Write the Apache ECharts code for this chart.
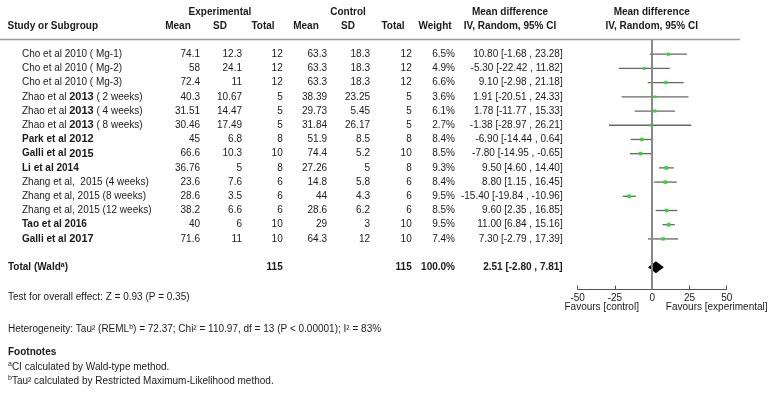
<!DOCTYPE html>
<html lang="en">
<head>
    <meta charset="UTF-8">
    <title>Forest plot</title>
    <script src="https://cdn.jsdelivr.net/npm/echarts@6/dist/echarts.min.js"></script>
</head>
<body style="margin:0;background:#fff;">
<div id="forest" style="width:772px;height:394px;"></div>
<script type="text/javascript">
    // study rows
    var studies = ['Cho et al 2010 ( Mg-1)', 'Cho et al 2010 ( Mg-2)', 'Cho et al 2010 ( Mg-3)',
        'Zhao et al 2013 ( 2 weeks)', 'Zhao et al 2013 ( 4 weeks)', 'Zhao et al 2013 ( 8 weeks)',
        'Park et al 2012', 'Galli et al 2015', 'Li et al 2014',
        'Zhang et al,  2015 (4 weeks)', 'Zhang et al, 2015 (8 weeks)', 'Zhang et al, 2015 (12 weeks)',
        'Tao et al 2016', 'Galli et al 2017'];
    var expMean = [74.1, 58, 72.4, 40.3, 31.51, 30.46, 45, 66.6, 36.76, 23.6, 28.6, 38.2, 40, 71.6];
    var expSD = [12.3, 24.1, 11, 10.67, 14.47, 17.49, 6.8, 10.3, 5, 7.6, 3.5, 6.6, 6, 11];
    var expN = [12, 12, 12, 5, 5, 5, 8, 10, 8, 6, 6, 6, 10, 10];
    var ctlMean = [63.3, 63.3, 63.3, 38.39, 29.73, 31.84, 51.9, 74.4, 27.26, 14.8, 44, 28.6, 29, 64.3];
    var ctlSD = [18.3, 18.3, 18.3, 23.25, 5.45, 26.17, 8.5, 5.2, 5, 5.8, 4.3, 6.2, 3, 12];
    var ctlN = [12, 12, 12, 5, 5, 5, 8, 10, 8, 6, 6, 6, 10, 10];
    var weight = [6.5, 4.9, 6.6, 3.6, 6.1, 2.7, 8.4, 8.5, 9.3, 8.4, 9.5, 8.5, 9.5, 7.4];
    var md = [10.80, -5.30, 9.10, 1.91, 1.78, -1.38, -6.90, -7.80, 9.50, 8.80, -15.40, 9.60, 11.00, 7.30];
    var ciLow = [-1.68, -22.42, -2.98, -20.51, -11.77, -28.97, -14.44, -14.95, 4.60, 1.15, -19.84, 2.35, 6.84, -2.79];
    var ciHigh = [23.28, 11.82, 21.18, 24.33, 15.33, 26.21, 0.64, -0.65, 14.40, 16.45, -10.96, 16.85, 15.16, 17.39];

    // pooled result
    var totalExpN = 115;
    var totalCtlN = 115;
    var totalWeight = 100.0;
    var pooled = [2.51, -2.80, 7.81];

    // x axis ticks of the plot
    var xTicks = [-50, -25, 0, 25, 50];

    var FONT = '"Liberation Sans", Arial, Helvetica, sans-serif';
    var TOTAL_ROW = 15;
    var fmt = function (v) { return v.toFixed(2); };
    var ciText = function (m, l, h) { return fmt(m) + ' [' + fmt(l) + ' , ' + fmt(h) + ']'; };

    // which study names are bold / have a bigger year
    var boldName = [6, 7, 8, 12, 13];
    var bigYear = [3, 4, 5, 6, 7, 13];

    function nameRich(i) {
        var tag = boldName.indexOf(i) >= 0 ? 'b' : 'n';
        return studies[i].split(/(\d{4})/).map(function (p) {
            if (p === '') return '';
            if (/^\d{4}$/.test(p) && bigYear.indexOf(i) >= 0) return '{y|' + p + '}';
            return '{' + tag + '|' + p + '}';
        }).join('');
    }

    // table cells: column x (px) and row index in the table grid
    var colX = {label: 22, eMean: 200, eSD: 242, eN: 282.7, cMean: 327, cSD: 370, cN: 411.7, w: 455, ci: 562.7};
    var cells = [];
    function cell(x, row, text, align, bold) {
        cells.push({x: x, row: row, text: text, align: align || 'right', bold: !!bold});
    }
    // headers
    var h1 = -2.93, h2 = -1.99;
    cell(220, h1, 'Experimental', 'center', true);
    cell(348, h1, 'Control', 'center', true);
    cell(510, h1, 'Mean difference', 'center', true);
    cell(651.7, h1, 'Mean difference', 'center', true);
    cell(7.5, h2, 'Study or Subgroup', 'left', true);
    cell(178, h2, 'Mean', 'center', true);
    cell(220, h2, 'SD', 'center', true);
    cell(263, h2, 'Total', 'center', true);
    cell(306, h2, 'Mean', 'center', true);
    cell(348, h2, 'SD', 'center', true);
    cell(393, h2, 'Total', 'center', true);
    cell(435, h2, 'Weight', 'center', true);
    cell(510, h2, 'IV, Random, 95% CI', 'center', true);
    cell(651.7, h2, 'IV, Random, 95% CI', 'center', true);

    studies.forEach(function (s, i) {
        cell(colX.label, i, nameRich(i), 'left');
        cell(colX.eMean, i, String(expMean[i]));
        cell(colX.eSD, i, String(expSD[i]));
        cell(colX.eN, i, String(expN[i]));
        cell(colX.cMean, i, String(ctlMean[i]));
        cell(colX.cSD, i, String(ctlSD[i]));
        cell(colX.cN, i, String(ctlN[i]));
        cell(colX.w, i, weight[i].toFixed(1) + '%');
        cell(colX.ci, i, ciText(md[i], ciLow[i], ciHigh[i]));
    });

    cell(8, TOTAL_ROW, '{b|Total (Wald}{sup|a}{b|)}', 'left');
    cell(colX.eN, TOTAL_ROW, String(totalExpN), 'right', true);
    cell(colX.cN, TOTAL_ROW, String(totalCtlN), 'right', true);
    cell(colX.w, TOTAL_ROW, totalWeight.toFixed(1) + '%', 'right', true);
    cell(colX.ci, TOTAL_ROW, ciText(pooled[0], pooled[1], pooled[2]), 'right', true);

    cell(601.7, 17.82, 'Favours [control]', 'center');
    cell(716.7, 17.82, 'Favours [experimental]', 'center');

    cell(8, 17.09, 'Test for overall effect: Z = 0.93 (P = 0.35)', 'left');
    cell(8, 19.35, '{n|Heterogeneity: Tau\u00b2 (REML}{sups|b}{n|) = 72.37; Chi\u00b2 = 110.97, df = 13 (P < 0.00001); I\u00b2 = 83%}', 'left');
    cell(8, 20.96, 'Footnotes', 'left', true);
    cell(8, 22.01, '{sups|a}{n|CI calculated by Wald-type method.}', 'left');
    cell(8, 23.0, '{sups|b}{n|Tau\u00b2 calculated by Restricted Maximum-Likelihood method.}', 'left');

    var rich = {
        n: {fontSize: 10, fontFamily: FONT, color: '#1a1a1a', lineHeight: 12},
        b: {fontSize: 10, fontFamily: FONT, fontWeight: 'bold', color: '#1a1a1a', lineHeight: 12},
        y: {fontSize: 11, fontFamily: FONT, fontWeight: 'bold', color: '#1a1a1a', lineHeight: 12},
        sup: {fontSize: 7, fontFamily: FONT, fontWeight: 'bold', color: '#1a1a1a', verticalAlign: 'top', lineHeight: 8},
        sups: {fontSize: 7, fontFamily: FONT, color: '#1a1a1a', verticalAlign: 'top', lineHeight: 8}
    };

    var myChart = echarts.init(document.getElementById('forest'), null, {renderer: 'canvas'});

    var option = {
        animation: false,
        backgroundColor: '#fff',
        grid: [
            // forest plot
            {left: 577.7, width: 149, top: 40, height: 249.5},
            // table text
            {left: 0, width: 772, top: 40, height: 249.5}
        ],
        xAxis: [
            {
                type: 'value', gridIndex: 0, min: xTicks[0], max: xTicks[xTicks.length - 1], interval: 25,
                splitLine: {show: false},
                axisLine: {onZero: false, lineStyle: {color: '#555', width: 1}},
                axisTick: {inside: true, length: 4, lineStyle: {color: '#555'}},
                axisLabel: {color: '#1a1a1a', fontSize: 10, fontFamily: FONT, margin: 4}
            },
            {type: 'value', gridIndex: 1, min: 0, max: 772, show: false}
        ],
        yAxis: [
            {type: 'value', gridIndex: 0, min: -1, max: 16.56, inverse: true, show: false},
            {type: 'value', gridIndex: 1, min: -1, max: 16.56, inverse: true, show: false}
        ],
        graphic: [
            {
                type: 'line', silent: true,
                shape: {x1: 0, y1: 39.5, x2: 740, y2: 39.5},
                style: {stroke: '#999', lineWidth: 1.5}
            }
        ],
        series: [
            {
                // study CIs and point estimates
                type: 'custom',
                xAxisIndex: 0, yAxisIndex: 0,
                data: md.map(function (m, i) { return [m, i, ciLow[i], ciHigh[i], weight[i]]; }),
                encode: {x: [0, 2, 3], y: 1},
                renderItem: function (params, api) {
                    var y = api.value(1);
                    var a = api.coord([api.value(2), y]);
                    var b = api.coord([api.value(3), y]);
                    var c = api.coord([api.value(0), y]);
                    var s = 2 + api.value(4) * 0.18;
                    return {
                        type: 'group',
                        children: [
                            {type: 'line', shape: {x1: a[0], y1: a[1], x2: b[0], y2: b[1]},
                                style: {stroke: '#666', lineWidth: 1.3}},
                            {type: 'rect', shape: {x: c[0] - s / 2, y: c[1] - s / 2, width: s, height: s},
                                style: {fill: '#2ddc2d'}}
                        ]
                    };
                },
                markLine: {
                    silent: true, symbol: 'none', label: {show: false},
                    lineStyle: {color: '#888', width: 2, type: 'solid'},
                    data: [{xAxis: 0}]
                },
                z: 3
            },
            {
                // pooled diamond
                type: 'custom',
                xAxisIndex: 0, yAxisIndex: 0,
                data: [[pooled[0], TOTAL_ROW, pooled[1], pooled[2]]],
                encode: {x: [0, 2, 3], y: 1},
                renderItem: function (params, api) {
                    var y = api.value(1);
                    var l = api.coord([api.value(2), y]);
                    var r = api.coord([api.value(3), y]);
                    var m = api.coord([api.value(0), y]);
                    var hh = 6;
                    return {
                        type: 'polygon',
                        shape: {points: [[l[0], l[1]], [m[0], m[1] - hh], [r[0], r[1]], [m[0], m[1] + hh]]},
                        style: {fill: '#000'}
                    };
                },
                z: 4
            },
            {
                // table text
                type: 'custom',
                xAxisIndex: 1, yAxisIndex: 1,
                data: cells.map(function (c) { return [c.x, c.row]; }),
                encode: {x: 0, y: 1},
                renderItem: function (params, api) {
                    var c = cells[params.dataIndex];
                    var p = api.coord([api.value(0), api.value(1)]);
                    return {
                        type: 'text',
                        x: p[0], y: p[1],
                        style: {
                            text: c.text,
                            rich: rich,
                            fontSize: 10,
                            fontFamily: FONT,
                            fontWeight: c.bold ? 'bold' : 'normal',
                            fill: '#1a1a1a',
                            align: c.align,
                            verticalAlign: 'middle'
                        }
                    };
                },
                z: 5
            }
        ]
    };
    myChart.setOption(option);
</script>
</body>
</html>
